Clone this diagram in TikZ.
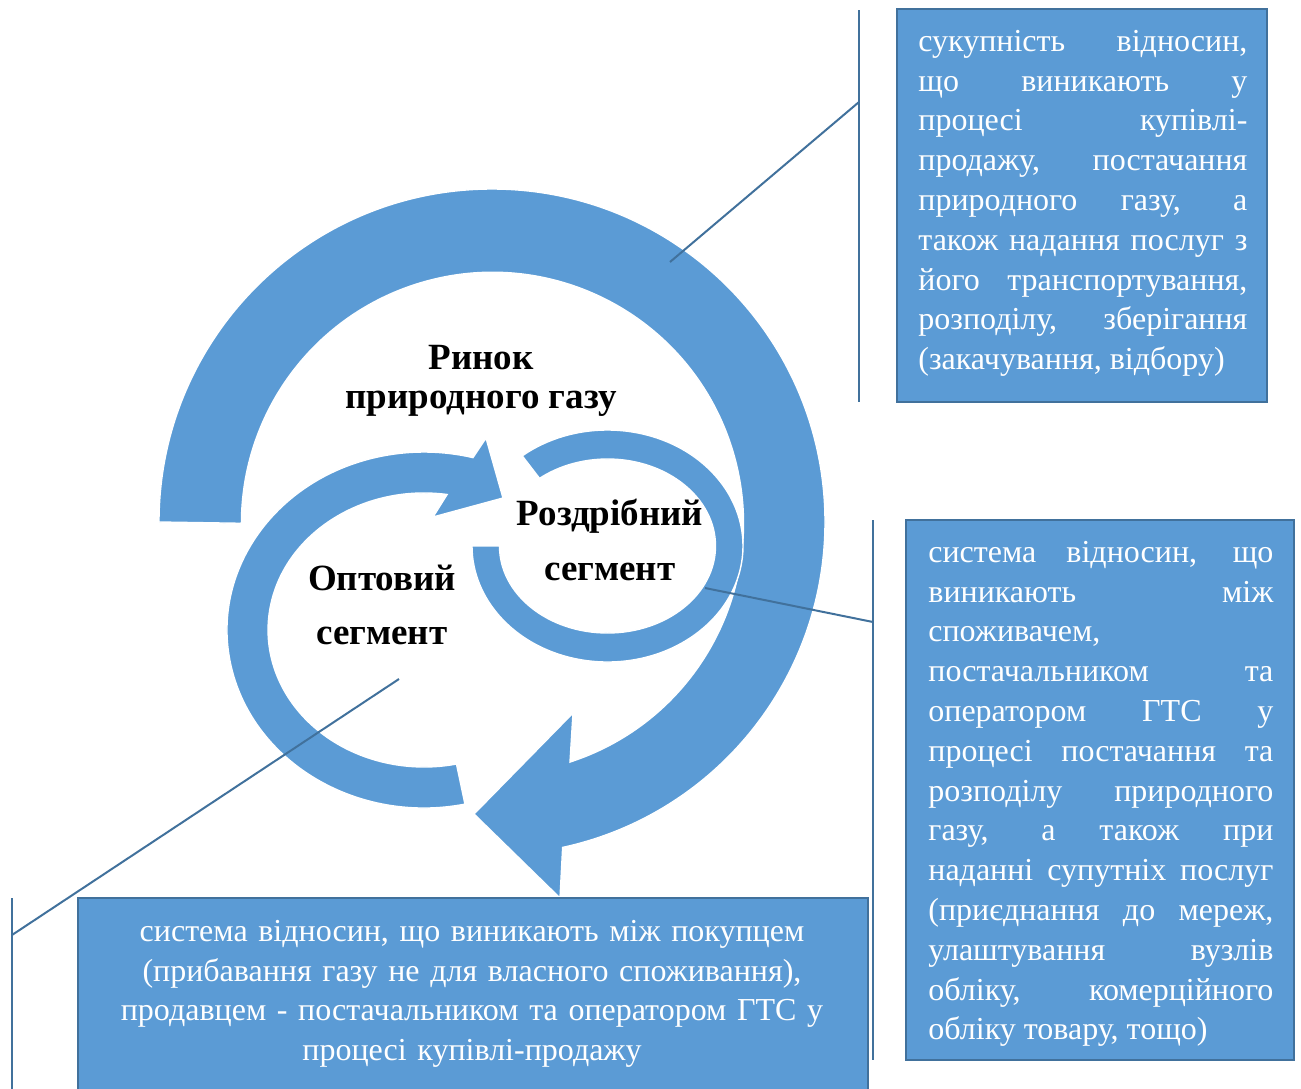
\documentclass[tikz,border=0pt]{standalone}
\usepackage{fontspec}
\setmainfont{Liberation Serif}
\usetikzlibrary{fit}
\definecolor{fillblue}{HTML}{5B9BD5}
\definecolor{lineblue}{HTML}{41719C}
\begin{document}
\begin{tikzpicture}[x=0.5pt,y=0.5pt,
  ring/.style={fill=fillblue, draw=white, line width=0.7pt},
  box/.style={fill=fillblue, draw=lineblue, line width=1.3pt, inner sep=0pt},
  callout/.style={draw=lineblue, line width=1pt},
  txt/.style={text=white, inner sep=0pt, font=\fontsize{16}{19.9}\selectfont},
  lbl/.style={inner sep=0pt, align=center, font=\bfseries\fontsize{18.5}{19.5}\selectfont}]
\path[use as bounding box] (0,0) rectangle (1301,-1088);
\clip (0,0) rectangle (1301,-1088);

% big arrow
\path[ring] (492,-522) ++(180:333)
  arc[start angle=180, end angle=-77.75, radius=333]
  -- (560,-898) -- (474,-814) -- (573,-713) -- (570,-762)
  arc[start angle=-72, end angle=180, radius=251] -- cycle;

% wholesale arrow
\path[ring] (424,-630) ++(-78:197 and 178)
  arc[start angle=-78, end angle=-284.4, x radius=197, y radius=178]
  -- (486,-438) -- (503,-498) -- (433,-517) -- (447.1,-494.5)
  arc[start angle=-278.5, end angle=-78, x radius=156, y radius=137] -- cycle;

% retail ring
\path[ring] (607.5,-546) ++(129:135.5 and 116)
  arc[start angle=129, end angle=-180, x radius=135.5, y radius=116]
  -- ++(27.5,0)
  arc[start angle=-180, end angle=129, x radius=108, y radius=87] -- cycle;

% labels
\node[lbl] (rynok) at (481,-380.5) {Ринок\\природного газу};
\node[lbl, font=\bfseries\fontsize{18.5}{27.5}\selectfont] (rozdr) at (610,-539.5) {Роздрібний\\сегмент};
\node[lbl, font=\bfseries\fontsize{18.5}{27}\selectfont] (opt) at (382,-605) {Оптовий\\сегмент};

% boxes
\node[box, fit={(897,-9) (1267,-402)}] (b1) {};
\node[box, fit={(906,-520) (1294,-1060)}] (b2) {};
\node[box, fit={(78,-898) (868,-1110)}] (b3) {};

\node[txt, text width=164.5pt, align=justify, anchor=north west] (t1) at (918,-23) {%
\tolerance=10000\strut сукупність відносин,\linebreak
що виникають у\linebreak
процесі купівлі-\linebreak{}продажу, постачання\linebreak
природного газу, а\linebreak
також надання послуг з\linebreak
його транспортування,\linebreak
розподілу, зберігання\linebreak
(закачування, відбору)};

\node[txt, text width=172.5pt, align=justify, anchor=north west] (t2) at (928,-534) {%
\tolerance=10000\strut система відносин, що\linebreak
виникають між\linebreak
споживачем,\\
постачальником та\linebreak
оператором ГТС у\linebreak
процесі постачання та\linebreak
розподілу природного\linebreak
газу, а також при\linebreak
наданні супутніх послуг\linebreak
(приєднання до мереж,\linebreak
улаштування вузлів\linebreak
обліку, комерційного\linebreak
обліку товару, тощо)};

\node[txt, text width=380pt, align=center, anchor=north] (t3) at (472,-913) {%
\strut система відносин, що виникають між покупцем\\
(прибавання газу не для власного споживання),\\
продавцем - постачальником та оператором ГТС у\\
процесі купівлі-продажу};

% callouts
\coordinate (c1top) at (859,-10);
\coordinate (c1bot) at (859,-402);
\coordinate (c1mid) at (859,-102);
\coordinate (c1end) at (670,-262);
\coordinate (c2top) at (873,-520);
\coordinate (c2bot) at (873,-1060);
\coordinate (c2mid) at (873,-622);
\coordinate (c2end) at (705,-588);
\coordinate (c3top) at (12,-898);
\coordinate (c3bot) at (12,-1100);
\coordinate (c3mid) at (12,-935);
\coordinate (c3end) at (399,-679);
\draw[callout] (c1top) -- (c1bot);
\draw[callout] (c1mid) -- (c1end);
\draw[callout] (c2top) -- (c2bot);
\draw[callout] (c2mid) -- (c2end);
\draw[callout] (c3top) -- (c3bot);
\draw[callout] (c3mid) -- (c3end);
\end{tikzpicture}
\end{document}
